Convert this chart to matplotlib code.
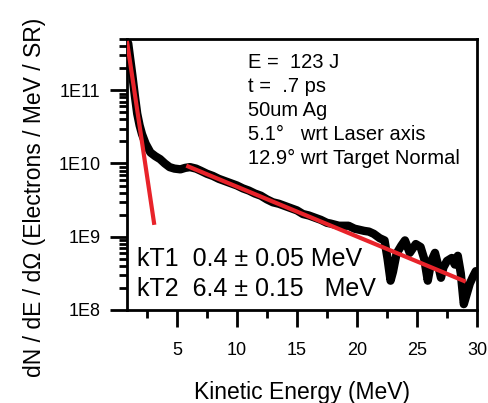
import matplotlib
matplotlib.use('Agg')
import matplotlib.pyplot as plt
from matplotlib.ticker import LogLocator, MultipleLocator, NullFormatter, FuncFormatter
import numpy as np

plt.rcParams['font.family'] = ['Liberation Sans', 'DejaVu Sans']

# measured spectrum, energy in MeV and log10 of dN/dE/dOmega
energy = [0.95, 1.1, 1.3, 1.5, 1.7, 1.9, 2.1, 2.4, 2.8, 3.2, 3.6, 4.0, 4.4, 4.8, 5.3, 5.7,
          6.1, 6.6, 7.0, 7.5, 8.0, 8.5, 9.0, 9.5, 10.0, 10.5, 11.0, 11.5, 12.0, 12.5, 13.0,
          13.5, 14.0, 14.5, 15.0, 15.5, 16.0, 16.5, 17.0, 17.5, 17.8, 18.5, 19.3, 19.8, 20.6,
          21.0, 21.4, 21.9, 22.3, 22.55, 22.8, 23.0, 23.3, 23.7, 24.0, 24.4, 24.9, 25.3, 25.6,
          25.9, 26.2, 26.5, 26.75, 27.0, 27.2, 27.5, 27.9, 28.15, 28.4, 28.65, 28.9, 29.15,
          29.4, 29.65, 29.9]
log_counts = [11.64, 11.45, 11.2, 10.93, 10.68, 10.52, 10.40, 10.27, 10.15, 10.10, 10.06, 10.00,
              9.95, 9.93, 9.92, 9.94, 9.95, 9.93, 9.90, 9.86, 9.83, 9.79, 9.76, 9.73, 9.70, 9.66,
              9.63, 9.59, 9.56, 9.51, 9.47, 9.45, 9.42, 9.39, 9.36, 9.31, 9.29, 9.26, 9.23, 9.19,
              9.18, 9.15, 9.15, 9.11, 9.08, 9.07, 9.04, 8.98, 8.95, 8.70, 8.40, 8.52, 8.77, 8.88,
              8.95, 8.78, 8.90, 8.86, 8.70, 8.40, 8.67, 8.78, 8.62, 8.44, 8.58, 8.67, 8.71, 8.62,
              8.74, 8.50, 8.08, 8.22, 8.36, 8.45, 8.53]

# two exponential fits (end points of the red lines)
fit1_energy = [0.87, 3.1]
fit1_counts = [4.4e11, 1.55e9]
fit2_energy = [5.95, 28.9]
fit2_counts = [9.1e9, 2.5e8]

info_lines = ['E =  123 J', 't =  .7 ps', '50um Ag', '5.1\u00b0   wrt Laser axis',
              '12.9\u00b0 wrt Target Normal']
kt_lines = ['kT1  0.4 \u00b1 0.05 MeV', 'kT2  6.4 \u00b1 0.15   MeV']

W, H = 488, 403
fig = plt.figure(figsize=(W / 100, H / 100), dpi=100)
ax = fig.add_axes([127 / W, 1 - 310 / H, 350 / W, 271 / H])

ax.plot(energy, [10 ** v for v in log_counts], color='black', lw=6, solid_capstyle='round',
        solid_joinstyle='round', zorder=2)
red = '#e8232a'
ax.plot(fit1_energy, fit1_counts, color=red, lw=3, zorder=3)
ax.plot(fit2_energy, fit2_counts, color=red, lw=3, zorder=3)

ax.set_yscale('log')
ax.set_xlim(0.85, 30)
ax.set_ylim(1e8, 5e11)

ax.xaxis.set_major_locator(MultipleLocator(5))
ax.xaxis.set_minor_locator(MultipleLocator(2.5))
ax.yaxis.set_major_locator(LogLocator(base=10))
ax.yaxis.set_minor_locator(LogLocator(base=10, subs=np.arange(2, 10)))
ax.yaxis.set_minor_formatter(NullFormatter())
ax.yaxis.set_major_formatter(FuncFormatter(lambda v, p: '1E%d' % round(np.log10(v))))

for s in ax.spines.values():
    s.set_linewidth(2)
ax.tick_params(which='major', direction='out', length=12, width=2, labelsize=13, pad=7,
               top=False, right=False)
ax.tick_params(which='minor', direction='out', length=6, width=2, top=False, right=False)
ax.tick_params(axis='x', which='major', pad=11)

ax.set_xlabel('Kinetic Energy (MeV)', fontsize=16.5, labelpad=16)
fig.text(35 / W, 1 - 197 / H, 'dN / dE / d\u03a9 (Electrons / MeV / SR)', fontsize=16.5,
         rotation=90, ha='center', va='center')

for i, line in enumerate(info_lines):
    fig.text(248 / W, 1 - (62 + 24.2 * i) / H, line, fontsize=14.5, ha='left', va='center')
for i, line in enumerate(kt_lines):
    fig.text(137 / W, 1 - (259 + 30 * i) / H, line, fontsize=18, ha='left', va='center')

fig.savefig('out.png', dpi=100)
